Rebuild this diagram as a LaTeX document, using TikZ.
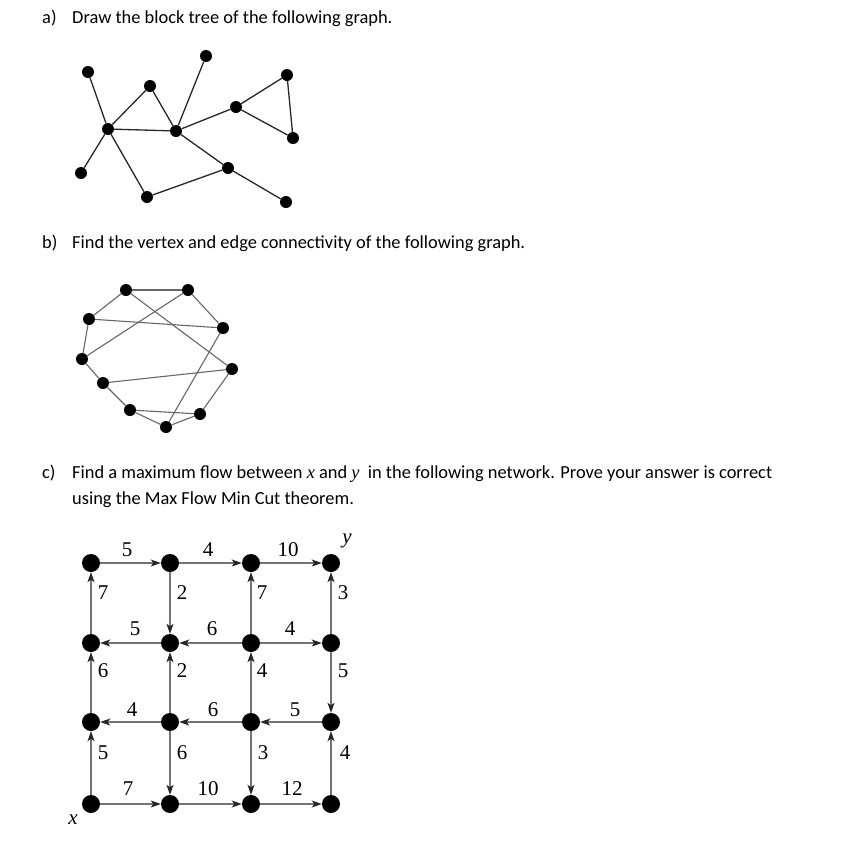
\documentclass[tikz,border=0pt]{standalone}
\usepackage{fontspec}
\setmainfont{Carlito}
\newfontfamily\tnr{Liberation Serif}
\usetikzlibrary{arrows.meta}
\begin{document}
\begin{tikzpicture}[x=1pt,y=-1pt,
  dot/.style={circle,fill=black,inner sep=0pt,minimum size=12pt},
  bigdot/.style={circle,fill=black,inner sep=0pt,minimum size=18pt},
  gedge/.style={draw=black!85,line width=1.3pt},
  bedge/.style={draw=black!60,line width=1.1pt},
  arr/.style={draw=black!55,line width=1.2pt,-{Stealth[length=10pt,width=7pt,inset=2.5pt,color=black!85]}},
  lab/.style={font=\tnr\fontsize{21}{23}\selectfont,inner sep=0pt},
  txt/.style={anchor=base west,font=\fontsize{18.4}{21}\selectfont,inner sep=0pt}
]
\useasboundingbox (0,0) rectangle (853,855);
% texts
\node[txt] (ta) at (42,23) {a)};
\node[txt] (tb) at (72,23) {Draw the block tree of the following graph.};
\node[txt] (tc) at (42,248) {b)};
\node[txt] (td) at (72,248) {Find the vertex and edge connectivity of the following graph.};
\node[txt] (te) at (42,478) {c)};
\node[txt] (tf) at (72,478) {Find a maximum flow between {\tnr\itshape x} and {\tnr\itshape y}\ \ in the following network. Prove your answer is correct};
\node[txt] (tg) at (72,504) {using the Max Flow Min Cut theorem.};
% part a
\node[dot] (a1) at (88,72) {};
\node[dot] (a2) at (150,86) {};
\node[dot] (a3) at (206,56) {};
\node[dot] (a4) at (287,75) {};
\node[dot] (a5) at (236,107) {};
\node[dot] (a6) at (108,129) {};
\node[dot] (a7) at (176,131) {};
\node[dot] (a8) at (293,138) {};
\node[dot] (a9) at (81,173) {};
\node[dot] (a10) at (228,168) {};
\node[dot] (a11) at (147,197) {};
\node[dot] (a12) at (286,202) {};
\foreach \u/\v in {a1/a6,a6/a2,a2/a7,a6/a7,a7/a3,a7/a5,a5/a4,a4/a8,a5/a8,a7/a10,a10/a11,a11/a6,a6/a9,a10/a12}
  \draw[gedge] (\u) -- (\v);
% part b
\node[dot] (b1) at (126,290) {};
\node[dot] (b2) at (188,290) {};
\node[dot] (b3) at (89,319) {};
\node[dot] (b4) at (223,328) {};
\node[dot] (b5) at (82,359) {};
\node[dot] (b6) at (232,369) {};
\node[dot] (b7) at (103,383) {};
\node[dot] (b8) at (130,410) {};
\node[dot] (b9) at (200,414) {};
\node[dot] (b10) at (166,427) {};
\foreach \u/\v in {b1/b2,b1/b3,b1/b6,b2/b5,b2/b4,b3/b4,b3/b5,b5/b7,b7/b6,b6/b9,b7/b8,b8/b9,b8/b10,b10/b9,b4/b10}
  \draw[bedge] (\u) -- (\v);
% part c
\foreach \r/\yy in {1/563,2/643,3/722,4/804}
  \foreach \c/\xx in {1/91,2/170,3/251,4/331}
    \node[bigdot] (c\r\c) at (\xx,\yy) {};
\draw[arr] (c11) -- (c12);
\draw[arr] (c12) -- (c13);
\draw[arr] (c13) -- (c14);
\draw[arr] (c21) -- (c11);
\draw[arr] (c12) -- (c22);
\draw[arr] (c23) -- (c13);
\draw[arr] (c24) -- (c14);
\draw[arr] (c22) -- (c21);
\draw[arr] (c23) -- (c22);
\draw[arr] (c23) -- (c24);
\draw[arr] (c31) -- (c21);
\draw[arr] (c32) -- (c22);
\draw[arr] (c33) -- (c23);
\draw[arr] (c24) -- (c34);
\draw[arr] (c32) -- (c31);
\draw[arr] (c33) -- (c32);
\draw[arr] (c34) -- (c33);
\draw[arr] (c41) -- (c31);
\draw[arr] (c32) -- (c42);
\draw[arr] (c33) -- (c43);
\draw[arr] (c44) -- (c34);
\draw[arr] (c41) -- (c42);
\draw[arr] (c42) -- (c43);
\draw[arr] (c43) -- (c44);
% labels
\node[lab] (l1) at (127,550) {5};
\node[lab] (l2) at (208,550) {4};
\node[lab] (l3) at (288,550) {10};
\node[lab,font=\tnr\itshape\fontsize{21}{23}\selectfont] (ly) at (347,541) {y};
\node[lab] (l4) at (103,593) {7};
\node[lab] (l5) at (182,593) {2};
\node[lab] (l6) at (262,593) {7};
\node[lab] (l7) at (343,593) {3};
\node[lab] (l8) at (135,629) {5};
\node[lab] (l9) at (212,629) {6};
\node[lab] (l10) at (290,629) {4};
\node[lab] (l11) at (103,671) {6};
\node[lab] (l12) at (182,671) {2};
\node[lab] (l13) at (262,671) {4};
\node[lab] (l14) at (343,671) {5};
\node[lab] (l15) at (132,710) {4};
\node[lab] (l16) at (213,710) {6};
\node[lab] (l17) at (295,710) {5};
\node[lab] (l18) at (103,753) {5};
\node[lab] (l19) at (182,753) {6};
\node[lab] (l20) at (263,753) {3};
\node[lab] (l21) at (345,753) {4};
\node[lab] (l22) at (128,789) {7};
\node[lab] (l23) at (208,789) {10};
\node[lab] (l24) at (292,789) {12};
\node[lab,font=\tnr\itshape\fontsize{21}{23}\selectfont] (lx) at (73,820) {x};
\end{tikzpicture}
\end{document}
